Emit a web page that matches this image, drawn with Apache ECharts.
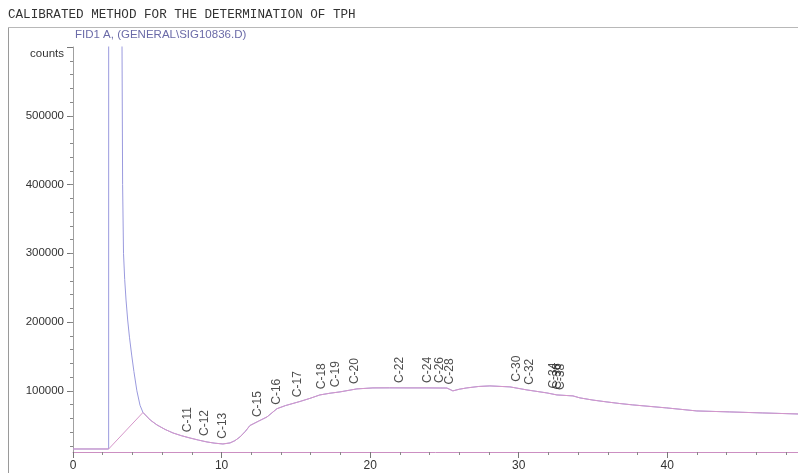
<!DOCTYPE html>
<html>
<head>
<meta charset="utf-8">
<title>TPH chromatogram</title>
<script src="https://cdn.jsdelivr.net/npm/echarts@6/dist/echarts.min.js"></script>
<style>
  html, body { margin: 0; padding: 0; background: #ffffff; }
  #chart { width: 798px; height: 473px; }
</style>
</head>
<body>
<div id="chart"></div>
<script>
// Retention time (min) and detector response (counts) of the FID1 A signal
const signalTime = [0, 2.40, 2.41, 3.29, 3.30, 3.34, 3.40, 3.48, 3.57, 3.68, 3.80, 3.95, 4.10, 4.30, 4.51, 4.71,
  5.20, 5.65, 6.20, 6.73, 7.30, 7.87, 8.45, 9.02, 9.55, 10.09, 10.57, 10.90, 11.24, 11.60, 11.91,
  12.50, 13.06, 13.73, 14.30, 15.28, 15.95, 16.62, 17.30, 17.97, 19.11, 20.19, 21.30, 22.48,
  23.82, 25.17, 25.57, 26.00, 26.51, 27.30, 28.06, 29.41, 30.55, 31.90, 32.57, 33.65, 34.12,
  35.00, 35.94, 36.80, 37.68, 39.97, 41.99, 44.21, 46.43, 48.80];
const signalCounts = [15400, 15400, 3000000, 3000000, 600000, 400000, 300000, 262000, 232000, 203000, 178000, 152000, 128000, 100000, 79000, 68500,
  57500, 50400, 43800, 38700, 34700, 31400, 28300, 25600, 23800, 22700, 24200, 27500, 32900, 41000, 49500,
  56000, 62000, 74000, 78500, 84500, 89000, 94000, 96500, 98400, 102800, 104200, 104300, 104200,
  104200, 104000, 99900, 102300, 104200, 106300, 107100, 105700, 101300, 96900, 94000, 92600, 89700,
  86500, 83800, 81500, 79500, 75100, 70700, 69300, 67800, 66300];

// Integration baseline: drawn below the solvent peak, then joins the signal
const baselineTime = [0, 2.40, 4.71];
const baselineCounts = [15400, 15400, 68500];

// Hydrocarbon peak identifications
const peakNames = ['C-11', 'C-12', 'C-13', 'C-15', 'C-16', 'C-17', 'C-18', 'C-19', 'C-20',
  'C-22', 'C-24', 'C-26', 'C-28', 'C-30', 'C-32', 'C-34', 'C-36', 'C-38'];
const peakTime = [7.74, 8.88, 10.10, 12.45, 13.73, 15.14, 16.76, 17.70, 18.98,
  22.00, 23.90, 24.70, 25.37, 29.88, 30.75, 32.35, 32.60, 32.85];
const peakCounts = [32500, 27000, 23000, 54500, 72500, 83500, 95000, 98000, 102500,
  104200, 104200, 104100, 102000, 106000, 101500, 96000, 94800, 94000];

// Axis tick positions
const yMajorTicks = [100000, 200000, 300000, 400000, 500000, 600000];
const yMinorTicks = [];
for (let v = 20000; v < 600000; v += 20000) yMinorTicks.push(v);
const xMajorTicks = [0, 10, 20, 30, 40];
const xMinorTicks = [2, 4, 6, 8, 12, 14, 16, 18, 22, 24, 26, 28, 32, 34, 36, 38, 42, 44, 46, 48];

const signalData = signalTime.map((t, i) => [t, signalCounts[i]]);
const baselineData = baselineTime.map((t, i) => [t, baselineCounts[i]])
  .concat(signalData.filter(p => p[0] > baselineTime[baselineTime.length - 1]));
const peakData = peakTime.map((t, i) => [t, peakCounts[i], peakNames[i]]);

const Y_MIN = 11000, Y_MAX = 600000, X_MIN = 0, X_MAX = 48.8;
const labelFont = 'Liberation Sans, Arial, sans-serif';

const chart = echarts.init(document.getElementById('chart'), null, { renderer: 'canvas' });
chart.setOption({
  animation: false,
  backgroundColor: '#ffffff',
  title: [
    {
      text: 'CALIBRATED METHOD FOR THE DETERMINATION OF TPH',
      left: 3, top: 3,
      textStyle: { fontFamily: 'Liberation Mono, Courier New, monospace', fontSize: 12.6, fontWeight: 'normal', color: '#333333' }
    },
    {
      text: 'FID1 A, (GENERAL\\SIG10836.D)',
      left: 70, top: 24,
      textStyle: { fontFamily: labelFont, fontSize: 11.5, fontWeight: 'normal', color: '#6b6ba8' }
    }
  ],
  graphic: [
    { type: 'line', shape: { x1: 8.5, y1: 27.5, x2: 8.5, y2: 473 }, style: { stroke: '#9a9a9a', lineWidth: 1 } },
    { type: 'line', shape: { x1: 8, y1: 27.5, x2: 798, y2: 27.5 }, style: { stroke: '#b8b8b8', lineWidth: 1 } }
  ],
  grid: { left: 73, right: 0, top: 47, bottom: 21 },
  xAxis: [
    {
      type: 'value', min: X_MIN, max: X_MAX,
      axisLine: { show: true, lineStyle: { color: '#cc8fc2', width: 1 } },
      axisTick: { show: true, customValues: xMajorTicks, length: 6, lineStyle: { color: '#777' } },
      axisLabel: { customValues: xMajorTicks, color: '#333', fontSize: 12, fontFamily: labelFont, margin: 8 },
      splitLine: { show: false }
    },
    {
      type: 'value', min: X_MIN, max: X_MAX, position: 'bottom',
      axisLine: { show: false },
      axisTick: { show: true, customValues: xMinorTicks, length: 3, lineStyle: { color: '#888' } },
      axisLabel: { show: false },
      splitLine: { show: false }
    }
  ],
  yAxis: [
    {
      type: 'value', min: Y_MIN, max: Y_MAX,
      axisLine: { show: true, lineStyle: { color: '#a0a0a0', width: 1 } },
      axisTick: { show: true, customValues: yMajorTicks, length: 6, lineStyle: { color: '#777' } },
      axisLabel: {
        customValues: yMajorTicks, color: '#333', fontSize: 11.5, fontFamily: labelFont, margin: 9,
        formatter: v => (v === Y_MAX ? '{unit|counts}' : String(v)),
        rich: { unit: { fontSize: 11.5, fontFamily: labelFont, color: '#333', padding: [13, 0, 0, 0] } }
      },
      splitLine: { show: false }
    },
    {
      type: 'value', min: Y_MIN, max: Y_MAX, position: 'left',
      axisLine: { show: false },
      axisTick: { show: true, customValues: yMinorTicks, length: 3, lineStyle: { color: '#888' } },
      axisLabel: { show: false },
      splitLine: { show: false }
    }
  ],
  series: [
    {
      name: 'signal', type: 'line', data: signalData, showSymbol: false, clip: true,
      lineStyle: { color: '#9a9ade', width: 1 }, z: 2
    },
    {
      name: 'baseline', type: 'line', data: baselineData, showSymbol: false, clip: true,
      lineStyle: { color: '#d596c9', width: 1 }, z: 3
    },
    {
      name: 'peaks', type: 'scatter', data: peakData, symbolSize: 0, z: 4,
      label: {
        show: true, position: 'top', distance: 5, rotate: 90,
        align: 'left', verticalAlign: 'middle',
        formatter: p => p.value[2],
        fontFamily: labelFont, fontSize: 12, color: '#222'
      }
    }
  ]
});
</script>
</body>
</html>
